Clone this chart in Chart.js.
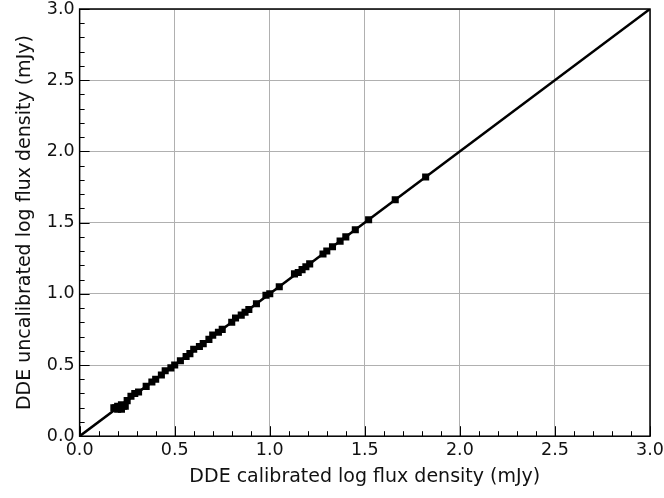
<!DOCTYPE html>
<html>
<head>
<meta charset="utf-8">
<script src="https://cdn.jsdelivr.net/npm/chart.js@4/dist/chart.umd.min.js"></script>
<style>
  html, body { margin: 0; padding: 0; background: #fff; }
  #wrap { width: 664px; height: 498px; }
</style>
</head>
<body>
<div id="wrap"><canvas id="grafico" width="664" height="498"></canvas></div>
<script>
// valores (log mJy)
const calibrado = [0.18, 0.19, 0.20, 0.20, 0.21, 0.22, 0.22, 0.23, 0.24, 0.25, 0.27, 0.29, 0.31, 0.35,
    0.38, 0.40, 0.43, 0.45, 0.48, 0.50, 0.53, 0.56, 0.58, 0.60, 0.63, 0.65, 0.68, 0.70, 0.73, 0.75,
    0.80, 0.82, 0.85, 0.87, 0.89, 0.93, 0.98, 1.00, 1.05, 1.13, 1.15, 1.17, 1.19, 1.21, 1.28, 1.30,
    1.33, 1.37, 1.40, 1.45, 1.52, 1.66, 1.82];
const sinCalibrar = [0.20, 0.20, 0.19, 0.21, 0.20, 0.19, 0.22, 0.21, 0.21, 0.25, 0.28, 0.30, 0.31, 0.35,
    0.38, 0.40, 0.43, 0.46, 0.48, 0.50, 0.53, 0.56, 0.58, 0.61, 0.63, 0.65, 0.68, 0.71, 0.73, 0.75,
    0.80, 0.83, 0.85, 0.87, 0.89, 0.93, 0.99, 1.00, 1.05, 1.14, 1.15, 1.17, 1.19, 1.21, 1.28, 1.30,
    1.33, 1.37, 1.40, 1.45, 1.52, 1.66, 1.82];
const lineaUno = [0, 3];
const ticksMayores = [0, 0.5, 1, 1.5, 2, 2.5, 3];

const puntos = calibrado.map((x, i) => ({ x: x, y: sinCalibrar[i] }));
const linea = lineaUno.map(v => ({ x: v, y: v }));

// ticks hacia dentro + marco, estilo matplotlib
const marcoTicks = {
    id: 'marcoTicks',
    afterDatasetsDraw(chart) {
        const ctx = chart.ctx;
        const a = chart.chartArea;
        const sx = chart.scales.x, sy = chart.scales.y;
        ctx.save();
        ctx.strokeStyle = '#000';
        ctx.lineWidth = 1;
        for (let i = 0; i <= 30; i++) {
            const v = i / 10;
            const mayor = i % 5 === 0;
            const len = mayor ? 10 : 5;
            const px = Math.round(sx.getPixelForValue(v)) + 0.5;
            const py = Math.round(sy.getPixelForValue(v)) + 0.5;
            ctx.beginPath();
            ctx.moveTo(px, a.bottom); ctx.lineTo(px, a.bottom - len);
            ctx.moveTo(a.left, py); ctx.lineTo(a.left + len, py);
            ctx.stroke();
        }
        ctx.lineWidth = 1.5;
        ctx.strokeRect(a.left, a.top, a.right - a.left, a.bottom - a.top);
        ctx.restore();
    }
};

// sin reservar hueco extra para las etiquetas de los extremos
const sinPadding = (s) => { s.paddingTop = 0; s.paddingBottom = 0; s.paddingLeft = 0; s.paddingRight = 0; };

const fuenteTick = { family: 'DejaVu Sans', size: 17.5 };
const fuenteTitulo = { family: 'DejaVu Sans', size: 19 };

const ctx = document.getElementById('grafico').getContext('2d');
new Chart(ctx, {
    type: 'scatter',
    data: {
        datasets: [
            { label: 'uno a uno', data: linea, showLine: true, borderColor: '#000', borderWidth: 2.5,
              pointRadius: 0, order: 2 },
            { label: 'fuentes', data: puntos, pointStyle: 'rect', pointRadius: 5,
              backgroundColor: '#000', borderColor: '#000', borderWidth: 0, order: 1 }
        ]
    },
    plugins: [marcoTicks],
    options: {
        responsive: false, animation: false,
        layout: { padding: { top: 9, right: 14, left: 14, bottom: 10 } },
        plugins: { legend: { display: false }, tooltip: { enabled: false } },
        scales: {
            x: {
                type: 'linear', min: 0, max: 3,
                afterBuildTicks: s => { s.ticks = ticksMayores.map(v => ({ value: v })); },
                afterFit: sinPadding,
                grid: { color: '#b0b0b0', lineWidth: 1, drawTicks: false },
                border: { display: false },
                ticks: { padding: 4, color: '#111', font: fuenteTick,
                         maxRotation: 0, callback: v => Number(v).toFixed(1) },
                title: { display: true, text: 'DDE calibrated log flux density (mJy)', color: '#111',
                         font: fuenteTitulo, padding: { top: 0, bottom: 0 } }
            },
            y: {
                type: 'linear', min: 0, max: 3,
                afterBuildTicks: s => { s.ticks = ticksMayores.map(v => ({ value: v })); },
                afterFit: sinPadding,
                grid: { color: '#b0b0b0', lineWidth: 1, drawTicks: false },
                border: { display: false },
                ticks: { padding: 5, color: '#111', font: fuenteTick,
                         callback: v => Number(v).toFixed(1) },
                title: { display: true, text: 'DDE uncalibrated log flux density (mJy)', color: '#111',
                         font: fuenteTitulo, padding: { top: 0, bottom: 5 } }
            }
        }
    }
});
</script>
</body>
</html>
